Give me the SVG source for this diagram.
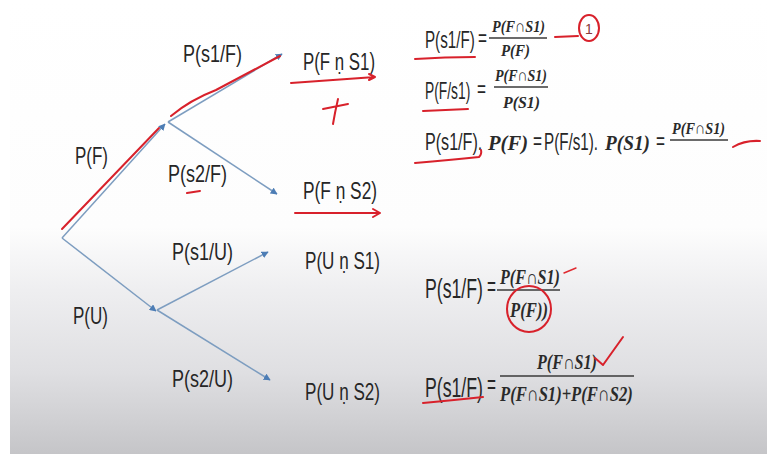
<svg xmlns="http://www.w3.org/2000/svg" width="767" height="454" viewBox="0 0 767 454">
  <defs>
    <linearGradient id="bg" x1="0" y1="0" x2="0" y2="454" gradientUnits="userSpaceOnUse">
      <stop offset="0" stop-color="#ffffff"/>
      <stop offset="0.5" stop-color="#fdfdfd"/>
      <stop offset="0.64" stop-color="#eeeef0"/>
      <stop offset="0.82" stop-color="#dfdfe2"/>
      <stop offset="1" stop-color="#c5c5c8"/>
    </linearGradient>
    <marker id="arr" viewBox="0 0 10 10" refX="9" refY="5" markerWidth="7" markerHeight="7" markerUnits="userSpaceOnUse" orient="auto">
      <path d="M0,0 L10,5 L0,10 z" fill="#4d7db5"/>
    </marker>
    <style>
      .edge { stroke: #7d9dc0; stroke-width: 1.5; fill: none; marker-end: url(#arr); }
      .lbl { font-family: "Liberation Sans", Arial, sans-serif; font-size: 24px; fill: #262626; }
      .fl { font-family: "Liberation Sans", Arial, sans-serif; font-size: 23px; fill: #262626; }
      .fl2 { font-family: "Liberation Sans", Arial, sans-serif; font-size: 27px; fill: #262626; }
      .m { font-family: "Liberation Serif", "Times New Roman", serif; font-weight: bold; font-style: italic; fill: #2a2a2a; }
      .bar { stroke: #3a3a3a; stroke-width: 1.3; }
      .red { stroke: #d8212b; stroke-width: 2; fill: none; stroke-linecap: round; stroke-linejoin: round; }
      .redt { stroke: #e02a30; stroke-width: 1.4; fill: none; stroke-linecap: round; }
    </style>
  </defs>

  <rect x="0" y="0" width="767" height="454" fill="#ffffff"/>
  <rect x="10" y="0" width="757" height="454" fill="url(#bg)"/>

  <g id="connectors">
    <line class="edge" x1="62" y1="238" x2="165" y2="124"/>
    <line class="edge" x1="168" y1="122" x2="282" y2="54"/>
    <line class="edge" x1="168" y1="122" x2="277" y2="194"/>
    <line class="edge" x1="62" y1="238" x2="156" y2="311"/>
    <line class="edge" x1="157" y1="310" x2="268" y2="252"/>
    <line class="edge" x1="157" y1="310" x2="270" y2="380"/>
  </g>

  <g id="label-PF"><text class="lbl" transform="translate(75,164) scale(0.71,1)" textLength="46.5" lengthAdjust="spacingAndGlyphs">P(F)</text></g>
  <g id="label-PU"><text class="lbl" transform="translate(73,324) scale(0.71,1)" textLength="49.3" lengthAdjust="spacingAndGlyphs">P(U)</text></g>
  <g id="label-s1F"><text class="lbl" transform="translate(183,62) scale(0.75,1)" textLength="78.7" lengthAdjust="spacingAndGlyphs">P(s1/F)</text></g>
  <g id="label-s2F"><text class="lbl" transform="translate(168,182) scale(0.75,1)" textLength="78.7" lengthAdjust="spacingAndGlyphs">P(s2/F)</text></g>
  <g id="label-s1U"><text class="lbl" transform="translate(172,260) scale(0.75,1)" textLength="81.3" lengthAdjust="spacingAndGlyphs">P(s1/U)</text></g>
  <g id="label-s2U"><text class="lbl" transform="translate(172,387) scale(0.75,1)" textLength="81.3" lengthAdjust="spacingAndGlyphs">P(s2/U)</text></g>

  <g id="node-FS1"><text class="lbl" transform="translate(303,70) scale(0.70,1)" textLength="102.9" lengthAdjust="spacingAndGlyphs">P(F ṇ S1)</text></g>
  <g id="node-FS2"><text class="lbl" transform="translate(303,199) scale(0.72,1)" textLength="102.8" lengthAdjust="spacingAndGlyphs">P(F ṇ S2)</text></g>
  <g id="node-US1"><text class="lbl" transform="translate(305,269) scale(0.71,1)" textLength="105.6" lengthAdjust="spacingAndGlyphs">P(U ṇ S1)</text></g>
  <g id="node-US2"><text class="lbl" transform="translate(305,400) scale(0.71,1)" textLength="105.6" lengthAdjust="spacingAndGlyphs">P(U ṇ S2)</text></g>

  <g id="formula-1">
    <text class="fl" transform="translate(425,48) scale(0.66,1)" textLength="75.4" lengthAdjust="spacingAndGlyphs">P(s1/F)</text>
    <text class="fl" transform="translate(478,46) scale(0.67,1)" textLength="13.4" lengthAdjust="spacingAndGlyphs">=</text>
    <text class="m" font-size="17" transform="translate(492,32) scale(0.84,1)" textLength="63.1" lengthAdjust="spacingAndGlyphs">P(F∩S1)</text>
    <line class="bar" x1="489" y1="38" x2="547" y2="38"/>
    <text class="m" font-size="17" transform="translate(501,56) scale(0.88,1)" textLength="33" lengthAdjust="spacingAndGlyphs">P(F)</text>
  </g>

  <g id="formula-2">
    <text class="fl" transform="translate(425,99) scale(0.60,1)" textLength="75.4" lengthAdjust="spacingAndGlyphs">P(F/s1)</text>
    <text class="fl" transform="translate(477,97) scale(0.67,1)" textLength="13.4" lengthAdjust="spacingAndGlyphs">=</text>
    <text class="m" font-size="17" transform="translate(495,81) scale(0.83,1)" textLength="62.7" lengthAdjust="spacingAndGlyphs">P(F∩S1)</text>
    <line class="bar" x1="494" y1="87" x2="548" y2="87"/>
    <text class="m" font-size="17" transform="translate(503,108) scale(0.93,1)" textLength="39.8" lengthAdjust="spacingAndGlyphs">P(S1)</text>
  </g>

  <g id="formula-3">
    <text class="fl" transform="translate(425,150) scale(0.70,1)" textLength="81.8" lengthAdjust="spacingAndGlyphs">P(s1/F).</text>
    <text class="m" font-size="22" transform="translate(488,150) scale(0.93,1)" textLength="43" lengthAdjust="spacingAndGlyphs">P(F)</text>
    <text class="fl" transform="translate(533,149) scale(0.67,1)" textLength="13.4" lengthAdjust="spacingAndGlyphs">=</text>
    <text class="fl" transform="translate(544,150) scale(0.66,1)" textLength="81.8" lengthAdjust="spacingAndGlyphs">P(F/s1).</text>
    <text class="m" font-size="22" transform="translate(605,150) scale(0.88,1)" textLength="51.1" lengthAdjust="spacingAndGlyphs">P(S1)</text>
    <text class="fl" transform="translate(656,149) scale(0.67,1)" textLength="13.4" lengthAdjust="spacingAndGlyphs">=</text>
    <text class="m" font-size="17" transform="translate(672,134) scale(0.84,1)" textLength="63.1" lengthAdjust="spacingAndGlyphs">P(F∩S1)</text>
    <line class="bar" x1="670" y1="140" x2="728" y2="140"/>
  </g>

  <g id="formula-4">
    <text class="fl2" transform="translate(425,298) scale(0.655,1)" textLength="88.5" lengthAdjust="spacingAndGlyphs">P(s1/F)</text>
    <text class="fl2" font-size="24" transform="translate(487,296) scale(0.64,1)" textLength="14" lengthAdjust="spacingAndGlyphs">=</text>
    <text class="m" font-size="20" transform="translate(500,284) scale(0.81,1)" textLength="74" lengthAdjust="spacingAndGlyphs">P(F∩S1)</text>
    <line class="bar" x1="497" y1="290" x2="560" y2="290"/>
    <text class="m" font-size="21" transform="translate(510,317) scale(0.8,1)" textLength="47.5" lengthAdjust="spacingAndGlyphs">P(F))</text>
  </g>

  <g id="formula-5">
    <text class="fl2" transform="translate(425,397) scale(0.655,1)" textLength="88.5" lengthAdjust="spacingAndGlyphs">P(s1/F)</text>
    <text class="fl2" font-size="24" transform="translate(487,394) scale(0.64,1)" textLength="14" lengthAdjust="spacingAndGlyphs">=</text>
    <text class="m" font-size="20" transform="translate(537,369) scale(0.81,1)" textLength="74" lengthAdjust="spacingAndGlyphs">P(F∩S1)</text>
    <line class="bar" x1="500" y1="376" x2="634" y2="376"/>
    <text class="m" font-size="21" transform="translate(500,401) scale(0.8,1)" textLength="166" lengthAdjust="spacingAndGlyphs">P(F∩S1)+P(F∩S2)</text>
  </g>

  <g id="annotations">
    <path class="red" d="M62,229 L159,128"/>
    <path class="red" d="M171,116 Q190,100 216,90 L280,56"/>
    <path class="red" d="M291,83 L375,77 M369,74 L375,77 L369,80"/>
    <path class="red" d="M323,109 L348,104 M338,99 Q335,112 333,124"/>
    <path class="red" d="M187,193 L200,191"/>
    <path class="red" stroke-width="3" d="M295,213 L380,213 M373,209 L380,213 L373,217"/>
    <path class="red" d="M415,59 Q445,57 475,57"/>
    <path class="red" d="M423,111 L468,109"/>
    <path class="red" d="M415,163 Q450,160 479,157 Q482,154 481,150"/>
    <path class="red" d="M423,403 Q455,400 483,397"/>
    <path class="red" d="M555,37 L578,36"/>
    <ellipse class="red" cx="589" cy="28" rx="10" ry="13"/>
    <text x="585" y="34" font-family="Liberation Sans, sans-serif" font-size="14" fill="#8a3a3a">1</text>
    <path class="red" d="M733,147 Q745,140 760,141"/>
    <ellipse class="red" cx="529" cy="309" rx="22" ry="23"/>
    <path class="redt" d="M564,273 L576,268"/>
    <path class="red" d="M595,358 L603,365 L623,337"/>
  </g>
</svg>
